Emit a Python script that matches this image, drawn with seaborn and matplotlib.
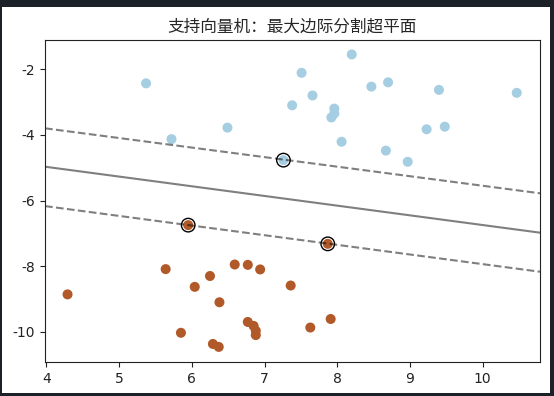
import numpy as np
import pandas as pd
import seaborn as sns
import matplotlib.pyplot as plt
from matplotlib.patches import Rectangle

# class 0 (light blue, upper cluster)
blue_x = [5.37, 7.51, 7.66, 7.38, 7.96, 7.96, 7.92, 6.49, 5.72, 7.26,
          8.06, 8.20, 8.47, 8.70, 9.40, 10.47, 9.23, 9.48, 8.67, 8.97]
blue_y = [-2.43, -2.11, -2.80, -3.10, -3.20, -3.35, -3.47, -3.78, -4.13, -4.77,
          -4.21, -1.55, -2.53, -2.40, -2.63, -2.72, -3.83, -3.75, -4.48, -4.82]

# class 1 (brown, lower cluster)
brown_x = [5.64, 6.04, 6.25, 6.59, 6.77, 6.94, 7.36, 6.38, 6.77, 6.85,
           6.88, 6.88, 5.85, 6.29, 6.37, 7.63, 7.91, 4.29, 5.95, 7.87]
brown_y = [-8.09, -8.63, -8.30, -7.95, -7.96, -8.10, -8.59, -9.10, -9.70, -9.82,
           -9.97, -10.10, -10.03, -10.37, -10.46, -9.87, -9.61, -8.86, -6.75, -7.32]

# support vectors
sv_x = [7.26, 5.95, 7.87]
sv_y = [-4.77, -6.75, -7.32]

# hyperplane and margins, end points across the axes
x_lim = [3.98, 10.79]
y_lim = [-10.92, -1.11]
upper_y = [-3.80, -5.78]
boundary_y = [-4.97, -6.98]
lower_y = [-6.17, -8.17]

df = pd.DataFrame({
    'x': blue_x + brown_x,
    'y': blue_y + brown_y,
    'label': [0] * len(blue_x) + [1] * len(brown_x),
})

sns.set_style('ticks')
plt.rcParams['font.family'] = ['DejaVu Sans']
plt.rcParams['axes.unicode_minus'] = False

fig = plt.figure(figsize=(5.54, 3.96), dpi=100, facecolor='#1c2027')
fig.patches.append(Rectangle((2 / 554, 3 / 396), 548 / 554, 386 / 396,
                             transform=fig.transFigure, facecolor='white',
                             edgecolor='none', zorder=-1))
ax = fig.add_axes([45 / 554, 34 / 396, 495 / 554, 322 / 396])

sns.scatterplot(data=df, x='x', y='y', hue='label',
                palette={0: '#a6cee3', 1: '#b15928'},
                s=52, linewidth=0, legend=False, ax=ax)

sns.lineplot(x=x_lim, y=upper_y, color='k', alpha=0.5, linestyle='--', ax=ax)
sns.lineplot(x=x_lim, y=boundary_y, color='k', alpha=0.5, linestyle='-', ax=ax)
sns.lineplot(x=x_lim, y=lower_y, color='k', alpha=0.5, linestyle='--', ax=ax)

ax.scatter(sv_x, sv_y, s=95, linewidth=1, facecolors='none', edgecolors='k')

ax.set_xlim(x_lim)
ax.set_ylim(y_lim)
ax.set_xlabel('')
ax.set_ylabel('')
for sp in ax.spines.values():
    sp.set_color('#222222')
ax.tick_params(colors='#222222', labelsize=10)
ax.set_title('支持向量机：最大边际分割超平面', fontsize=12,
             family=['Noto Sans CJK SC', 'DejaVu Sans'])

fig.savefig('out.png', dpi=100, facecolor=fig.get_facecolor())
